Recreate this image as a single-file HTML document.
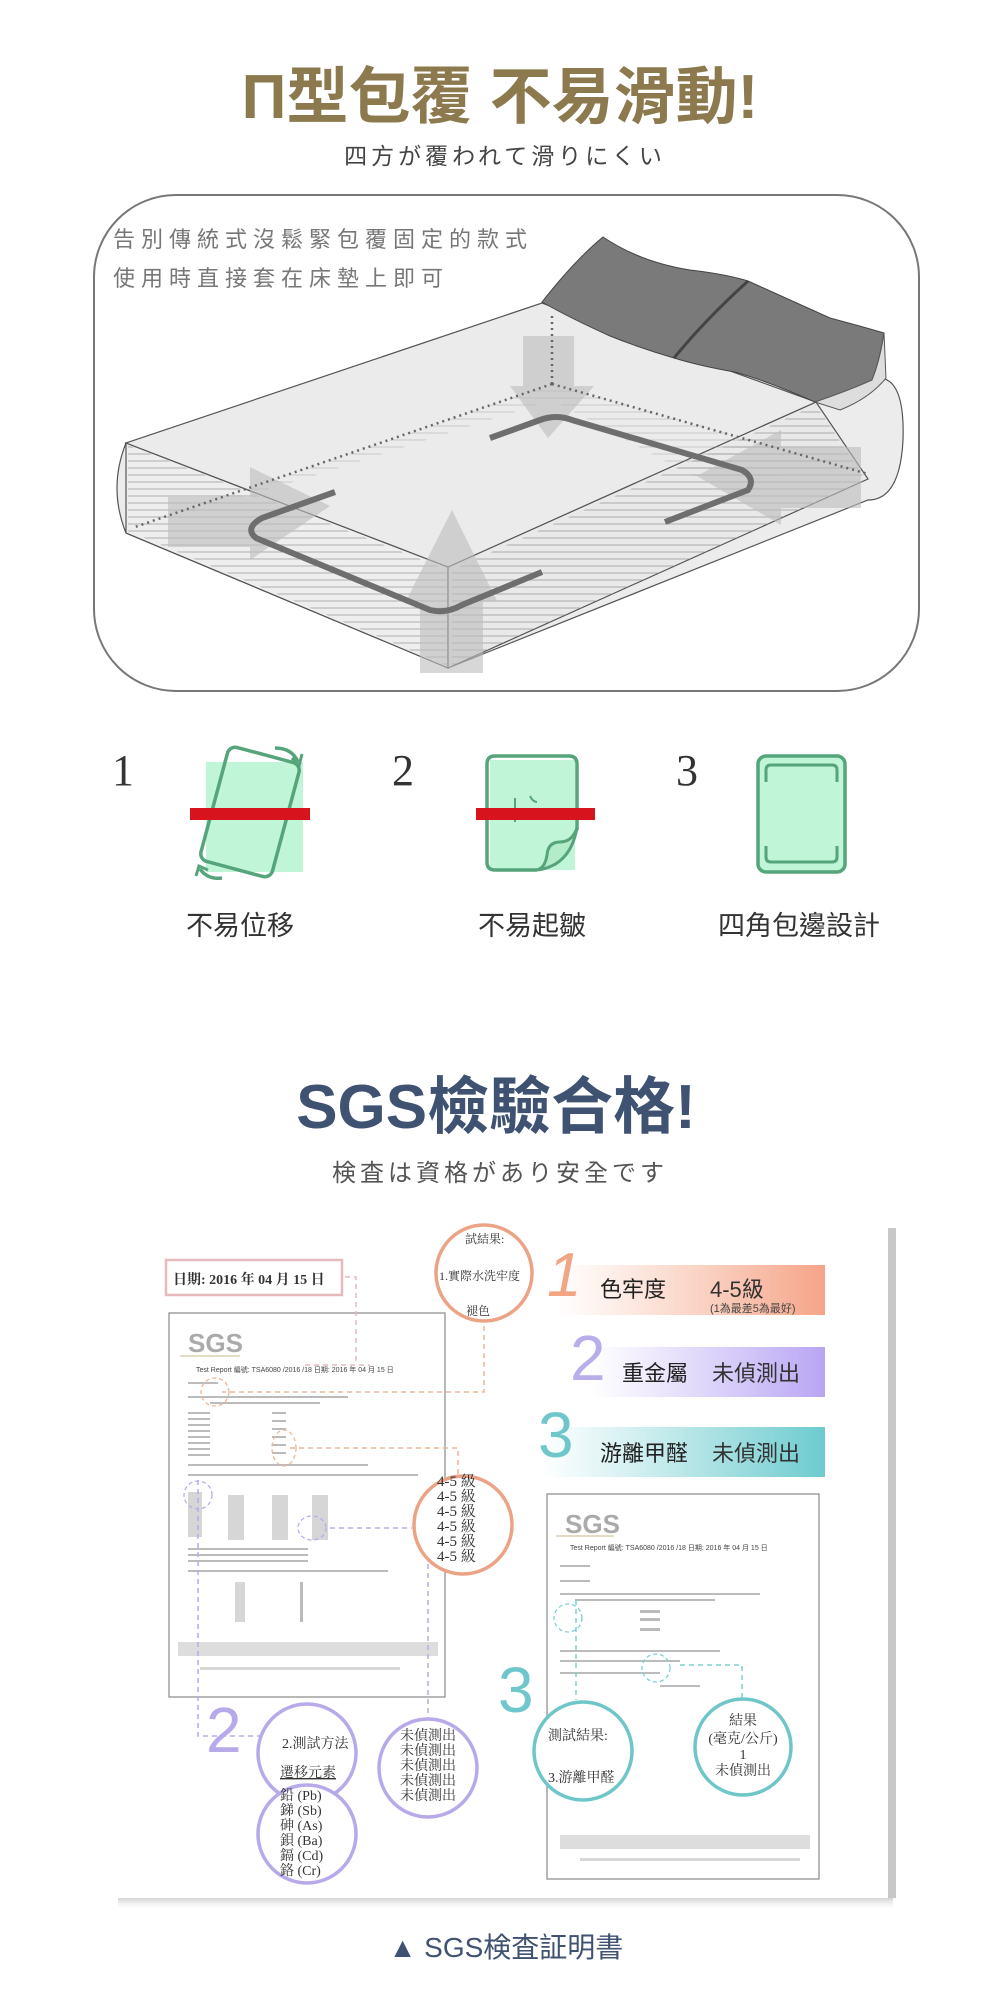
<!DOCTYPE html>
<html><head><meta charset="utf-8">
<style>
html,body{margin:0;padding:0;background:#fff;}
body{width:1000px;height:2000px;overflow:hidden;}
svg{display:block;}
text{font-family:"Liberation Sans","Noto Sans CJK TC",sans-serif;}
.serif{font-family:"Liberation Serif","Noto Serif CJK SC",serif;}
</style></head><body>
<svg width="1000" height="2000" viewBox="0 0 1000 2000" xmlns="http://www.w3.org/2000/svg">
<defs>
<pattern id="hatch" width="10" height="7" patternUnits="userSpaceOnUse"><line x1="0" y1="6" x2="10" y2="6" stroke="#8a8a8a" stroke-width="0.8"/></pattern>
<linearGradient id="gO" x1="0" x2="1"><stop offset="0" stop-color="#f7b59a" stop-opacity="0"/><stop offset="1" stop-color="#f5a488"/></linearGradient>
<linearGradient id="gP" x1="0" x2="1"><stop offset="0" stop-color="#c2b2f5" stop-opacity="0"/><stop offset="1" stop-color="#b8a5f4"/></linearGradient>
<linearGradient id="gT" x1="0" x2="1"><stop offset="0" stop-color="#7fd3d6" stop-opacity="0"/><stop offset="1" stop-color="#6ccbcf"/></linearGradient>
<linearGradient id="sh" x1="0" x2="0" y1="0" y2="1"><stop offset="0" stop-color="#bbb"/><stop offset="1" stop-color="#eee" stop-opacity="0"/></linearGradient>
</defs>

<!-- Title -->
<text x="500" y="118" text-anchor="middle" font-size="62" font-weight="bold" fill="#8c7a4e">Π型包覆 不易滑動!</text>
<text x="505" y="164" text-anchor="middle" font-size="23" fill="#444" letter-spacing="4">四方が覆われて滑りにくい</text>

<!-- Box -->
<rect x="94" y="195" width="825" height="496" rx="82" ry="82" fill="#fff" stroke="#777" stroke-width="2"/>
<text x="113" y="247" font-size="22" fill="#777" letter-spacing="6">告別傳統式沒鬆緊包覆固定的款式</text>
<text x="113" y="286" font-size="22" fill="#777" letter-spacing="6">使用時直接套在床墊上即可</text>

<!-- Bed -->
<g stroke="#555" stroke-width="1.2">
  <path d="M790,408 L880,378 Q905,380 903,440 Q900,500 868,500 L448,668 Z" fill="#ececec"/>
  <path d="M126,443 Q108,488 126,533 L448,668 L448,567 Z" fill="#ececec"/>
  <path d="M126,443 L448,567 L448,668 L126,533 Z" fill="#eeeeee"/>
  <path d="M448,567 L816,402 L868,479 L448,668 Z" fill="#e9e9e9"/>
  <path d="M126,443 L542,303 L816,402 L448,567 Z" fill="#ebebeb"/>
</g>
<path d="M128,445 L448,570 L448,666 L128,531 Z" fill="url(#hatch)" opacity="0.8"/>
<path d="M452,570 L816,405 L866,480 L452,666 Z" fill="url(#hatch)" opacity="0.8"/>
<path d="M160,520 L552,384 L860,470 L700,480 L552,400 L300,480 Z" fill="url(#hatch)" opacity="0.45"/>
<!-- pillows -->
<path d="M542,302 Q575,260 603,237 Q640,262 690,270 Q725,274 748,281 Q790,300 830,318 Q860,326 884,333 Q880,360 872,380 Q845,395 815,402 Q770,382 735,372 Q700,366 674,358 Q640,348 610,336 Q570,318 542,302 Z" fill="#7a7a7a" stroke="#444" stroke-width="1"/>
<path d="M748,281 Q705,320 674,358" stroke="#444" stroke-width="3" fill="none"/>
<path d="M815,402 Q850,390 872,380 Q880,360 884,333 L886,378 Q870,398 840,410 Z" fill="#ddd" stroke="#555"/>
<!-- arrows -->
<g fill="#bdbdbd" opacity="0.6">
  <path d="M523,336 L574,336 L574,386 L594,386 L548,438 L510,386 L523,386 Z"/>
  <path d="M420,673 L483,673 L483,601 L497,601 L452,510 L406,601 L420,601 Z"/>
  <path d="M168,497 L250,497 L250,467 L330,506 L250,560 L250,547 L168,547 Z"/>
  <path d="M861,447 L781,447 L781,430 L697,476 L781,525 L781,508 L861,508 Z"/>
</g>
<g stroke="#666" stroke-width="2.5" stroke-dasharray="2 4" fill="none">
  <path d="M552,316 L552,384"/>
  <path d="M552,384 L132,528"/>
  <path d="M552,384 L868,474"/>
</g>
<g stroke="#6e6e6e" stroke-width="6" fill="none">
  <path d="M490,438 L540,420 Q556,414 572,420 L742,470 Q756,478 748,490 L665,522"/>
  <path d="M335,492 L262,518 Q244,528 256,538 L430,610 Q446,614 462,605 L542,572"/>
</g>

<!-- Icons -->
<text x="112" y="785" class="serif" font-size="44" fill="#333">1</text>
<text x="392" y="785" class="serif" font-size="44" fill="#333">2</text>
<text x="676" y="785" class="serif" font-size="44" fill="#333">3</text>
<rect x="206" y="762" width="97" height="110" fill="#c0f5d8"/>
<g transform="rotate(15 250 812)"><rect x="213" y="753" width="74" height="118" rx="8" fill="none" stroke="#55a47a" stroke-width="3.5"/></g>
<path d="M275,748 Q292,748 298,762" stroke="#55a47a" stroke-width="3.5" fill="none"/><path d="M292,758 L299,766 L302,754" stroke="#55a47a" stroke-width="3" fill="none"/>
<path d="M200,869 Q208,880 222,878" stroke="#55a47a" stroke-width="3.5" fill="none"/><path d="M196,876 L199,866 L208,870" stroke="#55a47a" stroke-width="3" fill="none"/>
<rect x="190" y="808" width="120" height="12" fill="#d7141e"/>
<rect x="490" y="760" width="85" height="110" fill="#c0f5d8"/>
<path d="M537,870 L495,870 Q487,870 487,862 L487,764 Q487,756 495,756 L569,756 Q577,756 577,764 L577,830" fill="none" stroke="#55a47a" stroke-width="3.5"/>
<path d="M577,828 Q572,842 560,842 Q548,842 547,855 Q545,868 537,870 Q570,866 577,828" fill="#b2ecc9" stroke="#55a47a" stroke-width="3"/>
<path d="M515,798 L515,822 M530,796 Q533,802 537,802" stroke="#55a47a" stroke-width="2" fill="none"/>
<rect x="476" y="808" width="119" height="12" fill="#d7141e"/>
<rect x="758" y="756" width="87" height="116" rx="8" fill="#c0f5d8" stroke="#55a47a" stroke-width="3.5"/>
<path d="M766,782 L766,770 Q766,765 771,765 L832,765 Q837,765 837,770 L837,782" fill="none" stroke="#55a47a" stroke-width="3"/>
<path d="M766,846 L766,857 Q766,862 771,862 L832,862 Q837,862 837,857 L837,846" fill="none" stroke="#55a47a" stroke-width="3"/>
<text x="240" y="935" text-anchor="middle" font-size="27" fill="#333">不易位移</text>
<text x="532" y="935" text-anchor="middle" font-size="27" fill="#333">不易起皺</text>
<text x="799" y="935" text-anchor="middle" font-size="27" fill="#333">四角包邊設計</text>

<!-- SGS title -->
<text x="496" y="1128" text-anchor="middle" font-size="62" font-weight="bold" fill="#3f5272">SGS檢驗合格!</text>
<text x="500" y="1181" text-anchor="middle" font-size="24" fill="#555" letter-spacing="4">検査は資格があり安全です</text>

<!-- Document image -->
<rect x="118" y="1895" width="775" height="14" fill="url(#sh)"/>
<rect x="888" y="1228" width="8" height="670" fill="#c8c8c8"/>
<rect x="110" y="1222" width="778" height="676" fill="#fff"/>

<rect x="555" y="1265" width="270" height="50" fill="url(#gO)"/>
<rect x="590" y="1347" width="235" height="50" fill="url(#gP)"/>
<rect x="540" y="1427" width="285" height="50" fill="url(#gT)"/>
<text x="547" y="1296" font-size="62" fill="#f2a583" font-style="italic">1</text>
<text x="570" y="1380" font-size="64" fill="#b9aeea">2</text>
<text x="538" y="1457" font-size="64" fill="#6fc7cb">3</text>
<text x="600" y="1297" font-size="22" fill="#222">色牢度</text>
<text x="710" y="1297" font-size="22" fill="#333">4-5級</text>
<text x="710" y="1312" font-size="11" fill="#444">(1為最差5為最好)</text>
<text x="622" y="1381" font-size="22" fill="#222">重金屬</text>
<text x="712" y="1381" font-size="22" fill="#333">未偵測出</text>
<text x="600" y="1461" font-size="22" fill="#222">游離甲醛</text>
<text x="712" y="1461" font-size="22" fill="#333">未偵測出</text>

<rect x="166" y="1260" width="176" height="35" fill="none" stroke="#e7b9bd" stroke-width="2.5"/>
<text x="173" y="1284" class="serif" font-size="14" font-weight="bold" fill="#333">日期: 2016 年 04 月 15 日</text>

<!-- left doc -->
<rect x="169" y="1313" width="276" height="384" fill="#fff" stroke="#888" stroke-width="1.2"/>
<text x="188" y="1352" font-size="26" font-weight="bold" fill="#aaa">SGS</text>
<line x1="180" y1="1356" x2="240" y2="1356" stroke="#c9b98a"/>
<text x="196" y="1372" font-size="7" fill="#444">Test Report  編號: TSA6080 /2016 /18 日期: 2016 年 04 月 15 日</text>
<g fill="#bbb">
<rect x="188" y="1382" width="30" height="2"/>
<rect x="188" y="1396" width="160" height="2"/><rect x="210" y="1402" width="110" height="2"/>
<rect x="188" y="1412" width="22" height="2"/><rect x="188" y="1418" width="22" height="2"/><rect x="188" y="1424" width="22" height="2"/><rect x="188" y="1430" width="22" height="2"/><rect x="188" y="1436" width="22" height="2"/><rect x="188" y="1442" width="22" height="2"/><rect x="188" y="1448" width="22" height="2"/><rect x="188" y="1454" width="22" height="2"/>
<rect x="272" y="1412" width="14" height="2"/><rect x="272" y="1420" width="14" height="2"/><rect x="272" y="1428" width="14" height="2"/><rect x="272" y="1436" width="14" height="2"/><rect x="272" y="1444" width="14" height="2"/><rect x="272" y="1452" width="14" height="2"/>
<rect x="188" y="1464" width="180" height="2"/><rect x="188" y="1474" width="230" height="2"/>
<rect x="188" y="1492" width="14" height="45" opacity="0.6"/><rect x="228" y="1495" width="16" height="45" opacity="0.6"/><rect x="272" y="1495" width="16" height="45" opacity="0.6"/><rect x="312" y="1495" width="16" height="45" opacity="0.6"/>
<rect x="188" y="1548" width="120" height="2"/><rect x="188" y="1554" width="120" height="2"/><rect x="188" y="1560" width="120" height="2"/><rect x="188" y="1570" width="200" height="2"/>
<rect x="235" y="1582" width="10" height="40" opacity="0.6"/><rect x="300" y="1582" width="3" height="40"/>
<rect x="178" y="1642" width="260" height="14" opacity="0.5"/><rect x="200" y="1667" width="200" height="3" opacity="0.6"/>
</g>

<!-- right doc -->
<rect x="547" y="1494" width="272" height="385" fill="#fff" stroke="#888" stroke-width="1.2"/>
<text x="565" y="1533" font-size="26" font-weight="bold" fill="#aaa">SGS</text>
<line x1="556" y1="1536" x2="614" y2="1536" stroke="#c9b98a"/>
<text x="570" y="1550" font-size="7" fill="#444">Test Report 編號: TSA6080 /2016 /18 日期: 2016 年 04 月 15 日</text>
<g fill="#bbb">
<rect x="560" y="1565" width="30" height="2"/><rect x="560" y="1580" width="30" height="2"/>
<rect x="560" y="1593" width="200" height="2"/><rect x="575" y="1599" width="140" height="2"/>
<rect x="640" y="1610" width="20" height="3"/><rect x="640" y="1618" width="20" height="3"/><rect x="640" y="1628" width="20" height="3"/>
<rect x="560" y="1650" width="160" height="2"/>
<rect x="560" y="1660" width="120" height="2"/><rect x="560" y="1672" width="100" height="2"/>
<rect x="660" y="1685" width="40" height="2"/>
<rect x="560" y="1835" width="250" height="14" opacity="0.5"/><rect x="580" y="1858" width="220" height="3" opacity="0.6"/>
</g>

<g fill="none" stroke-width="1.5" stroke-dasharray="5 4">
  <path d="M345,1277 L356,1277 L356,1365 M305,1365 L370,1365" stroke="#e7b9bd"/>
  <path d="M484,1326 L484,1392 L222,1392" stroke="#eeb596"/>
  <path d="M290,1448 L458,1448 L458,1478" stroke="#eeb596"/>
  <path d="M330,1528 L412,1528" stroke="#b8acec"/>
  <path d="M198,1480 L198,1736 L260,1736" stroke="#b8acec"/>
  <path d="M428,1528 L428,1718" stroke="#b8acec"/>
  <path d="M576,1600 L576,1700" stroke="#7ecfd2"/>
  <path d="M680,1665 L742,1665 L742,1700" stroke="#7ecfd2"/>
</g>
<g fill="none" stroke-width="1.3" stroke-dasharray="4 3">
  <ellipse cx="215" cy="1392" rx="14" ry="14" stroke="#eeb596"/>
  <ellipse cx="284" cy="1448" rx="12" ry="18" stroke="#eeb596"/>
  <ellipse cx="198" cy="1495" rx="14" ry="14" stroke="#b8acec"/>
  <ellipse cx="312" cy="1528" rx="14" ry="12" stroke="#b8acec"/>
  <ellipse cx="568" cy="1618" rx="14" ry="14" stroke="#7ecfd2"/>
  <ellipse cx="656" cy="1668" rx="14" ry="14" stroke="#7ecfd2"/>
</g>

<circle cx="484" cy="1273" r="48" fill="#fff" stroke="#eca385" stroke-width="3.5"/>
<text x="465" y="1243" class="serif" font-size="12" fill="#333">試結果:</text>
<text x="439" y="1280" class="serif" font-size="12" fill="#333">1.實際水洗牢度</text>
<text x="466" y="1315" class="serif" font-size="12" fill="#333">褪色</text>
<circle cx="463" cy="1525" r="49" fill="#fff" stroke="#eca385" stroke-width="3.5"/>
<g font-size="15" fill="#333">
<text x="437" y="1486" class="serif">4-5 級</text><text x="437" y="1501" class="serif">4-5 級</text>
<text x="437" y="1516" class="serif">4-5 級</text><text x="437" y="1531" class="serif">4-5 級</text>
<text x="437" y="1546" class="serif">4-5 級</text><text x="437" y="1561" class="serif">4-5 級</text>
</g>

<text x="206" y="1752" font-size="64" fill="#b7a9ea">2</text>
<circle cx="307" cy="1753" r="49" fill="#fff" stroke="#b7a9ea" stroke-width="3.5"/>
<text x="282" y="1748" class="serif" font-size="14" fill="#333">2.測試方法</text>
<text x="280" y="1777" class="serif" font-size="14" fill="#333" text-decoration="underline">遷移元素</text>
<circle cx="307" cy="1834" r="49" fill="#fff" stroke="#b7a9ea" stroke-width="3.5"/>
<g font-size="14" fill="#333">
<text x="280" y="1800" class="serif">鉛 (Pb)</text><text x="280" y="1815" class="serif">銻 (Sb)</text>
<text x="280" y="1830" class="serif">砷 (As)</text><text x="280" y="1845" class="serif">鋇 (Ba)</text>
<text x="280" y="1860" class="serif">鎘 (Cd)</text><text x="280" y="1875" class="serif">鉻 (Cr)</text>
</g>
<circle cx="428" cy="1768" r="49" fill="#fff" stroke="#b7a9ea" stroke-width="3.5"/>
<g font-size="14" fill="#333">
<text x="400" y="1740" class="serif">未偵測出</text><text x="400" y="1755" class="serif">未偵測出</text>
<text x="400" y="1770" class="serif">未偵測出</text><text x="400" y="1785" class="serif">未偵測出</text>
<text x="400" y="1800" class="serif">未偵測出</text>
</g>

<text x="498" y="1712" font-size="64" fill="#6fc7cb">3</text>
<circle cx="583" cy="1751" r="49" fill="#fff" stroke="#6ec6c9" stroke-width="3.5"/>
<text x="548" y="1740" class="serif" font-size="14" fill="#333">測試結果:</text>
<text x="548" y="1782" class="serif" font-size="14" fill="#333">3.游離甲醛</text>
<circle cx="743" cy="1747" r="48" fill="#fff" stroke="#6ec6c9" stroke-width="3.5"/>
<text x="743" y="1725" text-anchor="middle" class="serif" font-size="14" fill="#333">結果</text>
<text x="743" y="1743" text-anchor="middle" class="serif" font-size="14" fill="#333">(毫克/公斤)</text>
<text x="743" y="1759" text-anchor="middle" class="serif" font-size="14" fill="#333">1</text>
<text x="743" y="1775" text-anchor="middle" class="serif" font-size="14" fill="#333">未偵測出</text>

<text x="506" y="1957" text-anchor="middle" font-size="28" fill="#3f5272">▲ SGS検査証明書</text>
</svg>
</body></html>
